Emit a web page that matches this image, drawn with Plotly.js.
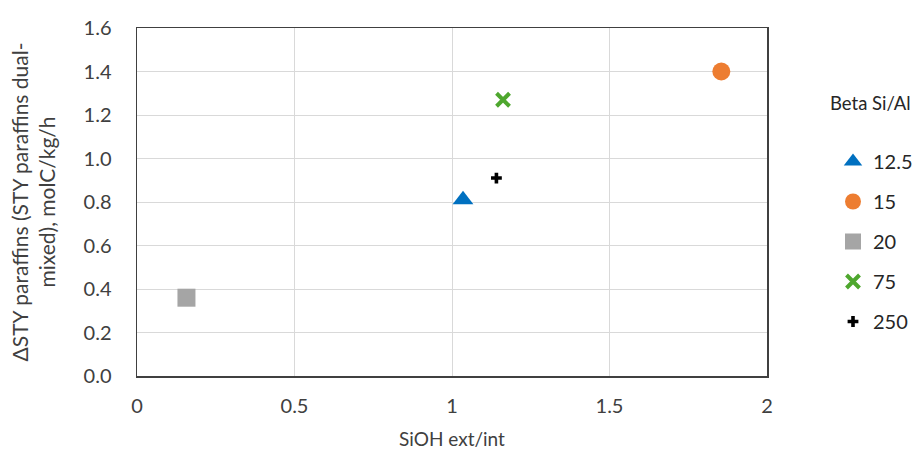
<!DOCTYPE html>
<html>
<head>
<meta charset="utf-8">
<script src="https://cdn.plot.ly/plotly-3.0.1.min.js"></script>
<style>html,body{margin:0;padding:0;background:#fff;}#chart{width:919px;height:455px;}</style>
</head>
<body>
<div id="chart"></div>
<script>
// Beta zeolite samples: external/internal silanol ratio vs. paraffin STY gain
const seriesNames = ['12.5', '15', '20', '75', '250'];
const siohRatio = [1.035, 1.855, 0.157, 1.162, 1.141];
const deltaSty = [0.81, 1.40, 0.36, 1.27, 0.91];
const xTicks = [0, 0.5, 1, 1.5, 2];
const xTickText = ['0', '0.5', '1', '1.5', '2'];
const yTicks = [0, 0.2, 0.4, 0.6, 0.8, 1.0, 1.2, 1.4, 1.6];
const yTickText = ['0.0', '0.2', '0.4', '0.6', '0.8', '1.0', '1.2', '1.4', '1.6'];

const markerStyles = [
  {symbol: 'triangle-up', size: 18, color: '#0070c0'},
  {symbol: 'circle', size: 18, color: '#ed7d31'},
  {symbol: 'square', size: 18, color: '#a5a5a5'},
  {symbol: 'x-thin', size: 13, color: '#4ea72e', line: {width: 4, color: '#4ea72e'}},
  {symbol: 'cross', size: 9, color: '#000000'}
];

const traces = seriesNames.map((name, i) => ({
  type: 'scatter',
  mode: 'markers',
  name: name,
  legendgroup: 'g' + i,
  x: [siohRatio[i]],
  y: [deltaSty[i]],
  marker: Object.assign({line: {width: 0}}, markerStyles[i]),
  hoverinfo: 'x+y+name'
}));

const font = 'Lato, "Open Sans", sans-serif';

const layout = {
  width: 919,
  height: 455,
  margin: {l: 137, r: 152, t: 28, b: 79},
  paper_bgcolor: '#ffffff',
  plot_bgcolor: '#ffffff',
  font: {family: font, size: 20, color: '#404040'},
  showlegend: true,
  legend: {
    xref: 'container', yref: 'container',
    x: 833 / 919, xanchor: 'left',
    y: 1 - 142 / 455, yanchor: 'top',
    traceorder: 'grouped',
    tracegroupgap: 11,
    itemwidth: 30,
    font: {family: font, size: 20, color: '#262626'},
    bgcolor: 'rgba(0,0,0,0)'
  },
  annotations: [{
    text: 'Beta Si/Al',
    xref: 'paper', yref: 'paper',
    x: 1.165, y: 0.784,
    xanchor: 'center', yanchor: 'middle',
    showarrow: false,
    font: {family: font, size: 18.5, color: '#262626'}
  }],
  xaxis: {
    range: [0, 2],
    tickvals: xTicks,
    ticktext: xTickText,
    ticks: '',
    ticklabelstandoff: 11,
    showgrid: true,
    gridcolor: '#d9d9d9',
    gridwidth: 1,
    zeroline: false,
    showline: true,
    linecolor: '#404040',
    linewidth: 1.5,
    mirror: true,
    title: {text: 'SiOH ext/int', font: {family: font, size: 19, color: '#404040'}, standoff: 17},
    automargin: false
  },
  yaxis: {
    range: [0, 1.6],
    tickvals: yTicks,
    ticktext: yTickText,
    ticks: '',
    ticklabelstandoff: 20,
    showgrid: true,
    gridcolor: '#d9d9d9',
    gridwidth: 1,
    zeroline: false,
    showline: true,
    linecolor: '#404040',
    linewidth: 1.5,
    mirror: true,
    title: {text: '\u0394STY paraffins (STY paraffins dual-<br>mixed), molC/kg/h', font: {family: font, size: 21, color: '#404040'}, standoff: 22},
    automargin: false
  }
};

Plotly.newPlot('chart', traces, layout, {displayModeBar: false, staticPlot: true});
</script>
</body>
</html>
